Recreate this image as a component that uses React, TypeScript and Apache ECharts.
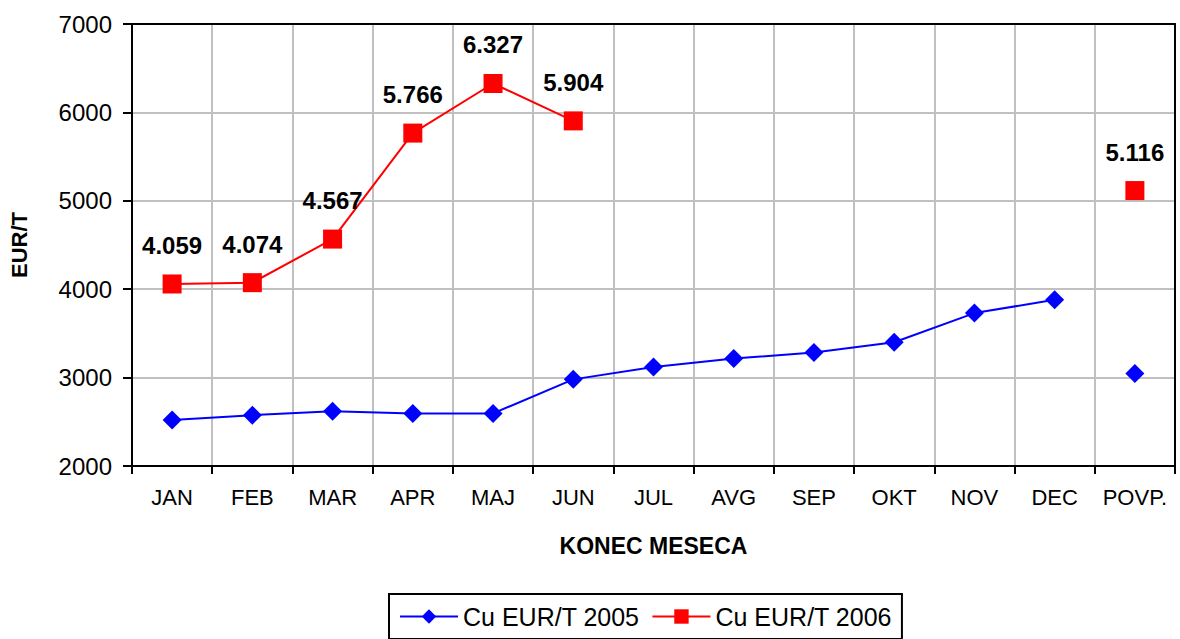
import React, { useEffect, useRef } from "react";
import * as echarts from "echarts";

const categories = ["JAN", "FEB", "MAR", "APR", "MAJ", "JUN", "JUL", "AVG", "SEP", "OKT", "NOV", "DEC", "POVP."];
const cu2005 = [2520, 2575, 2620, 2595, 2595, 2980, 3120, 3215, 3285, 3400, 3730, 3880];
const cu2006 = [4059, 4074, 4567, 5766, 6327, 5904];
const pov2005 = 3045;
const pov2006 = 5116;
const yTicks = { min: 2000, max: 7000, interval: 1000 };

const FONT = "Liberation Sans, Arial, sans-serif";

function fmt(v: number) {
  const s = String(Math.round(v));
  return s.length > 3 ? s.slice(0, s.length - 3) + "." + s.slice(s.length - 3) : s;
}

export default function App() {
  const ref = useRef<HTMLDivElement>(null);
  useEffect(() => {
    if (!ref.current) return;
    const chart = echarts.init(ref.current, undefined, { renderer: "svg" });
    const n = categories.length;
    const s2005 = categories.map((_, i) => (i < cu2005.length ? cu2005[i] : null));
    const s2005pov = categories.map((_, i) => (i === n - 1 ? pov2005 : null));
    const s2006 = categories.map((_, i) => (i < cu2006.length ? cu2006[i] : i === n - 1 ? pov2006 : null));
    chart.setOption({
      animation: false,
      textStyle: { fontFamily: FONT },
      grid: { left: 131, right: 5, top: 24, bottom: 173 },
      legend: {
        data: ["Cu EUR/T 2005", "Cu EUR/T 2006"],
        top: 594,
        left: 389,
        padding: [10, 10],
        borderColor: "#000",
        borderWidth: 2,
        itemWidth: 58,
        itemHeight: 18,
        itemGap: 12,
        textStyle: { fontSize: 25, color: "#000", fontFamily: FONT },
      },
      xAxis: [
        {
          type: "category",
          data: categories,
          boundaryGap: true,
          axisLine: { lineStyle: { color: "#000", width: 2 } },
          axisTick: { show: true, length: 8, lineStyle: { color: "#000", width: 2 } },
          axisLabel: { color: "#000", fontSize: 22, margin: 20, interval: 0, fontFamily: FONT },
          splitLine: { show: true, interval: 0, lineStyle: { color: "#c0c0c0", width: 2 } },
          name: "KONEC MESECA",
          nameLocation: "middle",
          nameGap: 68,
          nameTextStyle: { fontSize: 23, fontWeight: "bold", color: "#000", fontFamily: FONT },
        },
        {
          type: "category",
          data: categories,
          position: "top",
          axisLine: { show: true, lineStyle: { color: "#000", width: 2 } },
          axisTick: { show: false },
          axisLabel: { show: false },
          splitLine: { show: false },
        },
      ],
      yAxis: [
        {
          type: "value",
          min: yTicks.min,
          max: yTicks.max,
          interval: yTicks.interval,
          axisLine: { show: true, lineStyle: { color: "#000", width: 2 } },
          axisTick: { show: true, length: 9, lineStyle: { color: "#000", width: 2 } },
          axisLabel: { color: "#000", fontSize: 24, margin: 20, fontFamily: FONT, formatter: (v: number) => String(v) },
          splitLine: { show: true, lineStyle: { color: "#c0c0c0", width: 2 } },
          name: "EUR/T",
          nameLocation: "middle",
          nameGap: 102,
          nameRotate: 90,
          nameTextStyle: { fontSize: 22, fontWeight: "bold", color: "#000", fontFamily: FONT },
        },
        {
          type: "value",
          min: yTicks.min,
          max: yTicks.max,
          interval: yTicks.interval,
          position: "right",
          axisLine: { show: true, lineStyle: { color: "#000", width: 2 } },
          axisTick: { show: false },
          axisLabel: { show: false },
          splitLine: { show: false },
        },
      ],
      series: [
        {
          name: "Cu EUR/T 2005",
          type: "line",
          data: s2005,
          symbol: "diamond",
          symbolSize: 19,
          itemStyle: { color: "#0000ff" },
          lineStyle: { color: "#0000ff", width: 2 },
          connectNulls: false,
        },
        {
          name: "Cu EUR/T 2005 POV",
          type: "line",
          data: s2005pov,
          symbol: "diamond",
          symbolSize: 19,
          itemStyle: { color: "#0000ff" },
          lineStyle: { color: "#0000ff", width: 2 },
        },
        {
          name: "Cu EUR/T 2006",
          type: "line",
          data: s2006,
          symbol: "rect",
          symbolSize: 19,
          connectNulls: false,
          itemStyle: { color: "#ff0000" },
          lineStyle: { color: "#ff0000", width: 2 },
          label: {
            show: true,
            position: "top",
            distance: 17,
            fontSize: 24,
            fontWeight: "bold",
            color: "#000",
            fontFamily: FONT,
            formatter: (p: any) => fmt(p.value),
          },
        },
      ],
    });
    return () => chart.dispose();
  }, []);
  return <div ref={ref} style={{ width: 1180, height: 639, position: "absolute", left: 0, top: 0 }} />;
}
